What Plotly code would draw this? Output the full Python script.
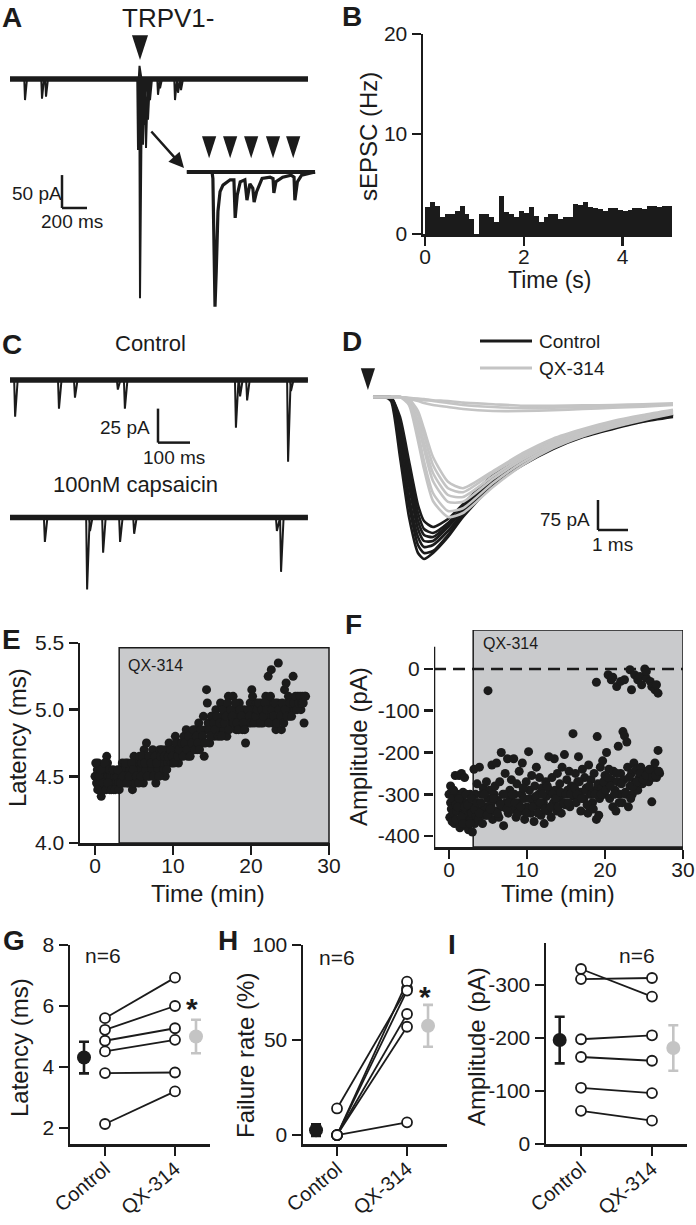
import plotly.graph_objects as go

W, H = 696, 1225
FONT = "Liberation Sans, Arial, Helvetica, sans-serif"
INK = "#1b1b1b"
GREY = "#c4c4c4"
RECT_GREY = "#c9cacc"

# ======================= DATA =======================
# ---- A: whole-cell trace (ms, pA) ----
A_window = [0, 2384]
A_evt_t = [120, 256, 288, 1024, 1036, 1040, 1048, 1056, 1064, 1072, 1088, 1104, 1120, 1184, 1200, 1320, 1344, 1368]
A_evt_i = [-32, -30, -27, -108, 20, -333, -115, -93, -100, -70, -105, -62, -32, -24, -14, -32, -21, -17]
A_stim_t = [1040]
A_stim_mark = 29
# inset (expanded time base, ms / pA)
A_in_t = [2, 62, 64, 69, 72, 76, 81, 88, 105, 114, 117, 122, 129, 140, 145, 150, 152, 159, 162, 168,
          181, 200, 207, 209, 214, 230, 250, 257, 259, 265, 275, 307]
A_in_i = [0, 0, -10, -205, -150, -60, -30, -20, -12, -12, -70, -35, -15, -12, -43, -20, -18, -25, -46, -30,
          -10, -8, -10, -32, -15, -8, -5, -8, -43, -15, -5, 0]
A_in_stim_t = [55, 105, 155, 207, 255]
A_in_stim_mark = 21
A_scale = [416, -196, 200, 50]   # corner t, corner i, 200 ms, 50 pA

# ---- B: sEPSC histogram ----
B_bin_width = 0.1
B_rate = [2.7, 3.2, 2.8, 1.7, 2.0, 2.0, 2.3, 2.8, 2.0, 1.5,
          0.0, 2.0, 2.0, 1.7, 1.2, 3.8, 2.2, 2.0, 1.7, 2.3,
          2.1, 2.7, 1.8, 1.2, 1.7, 2.0, 2.0, 1.5, 1.7, 1.7,
          3.0, 2.9, 3.2, 2.7, 2.6, 2.5, 2.3, 2.6, 2.6, 2.4,
          2.3, 2.4, 2.6, 2.6, 2.5, 2.8, 2.8, 2.7, 2.8, 2.8]

# ---- C: sEPSC traces (ms, pA) ----
C_window = [0, 931]
C_ctrl_evt_t = [16, 153, 203, 337, 359, 706, 719, 741, 869, 878]
C_ctrl_evt_i = [-27, -21, -13, -7, -21, -35, -12, -15, -60, -8]
C_caps_evt_t = [109, 241, 250, 291, 344, 388, 834, 847]
C_caps_evt_i = [-18, -53, -10, -26, -18, -12, -10, -40]
C_caps_offset = -101
C_scale = [462.5, -46, 100, 25]

# ---- D: evoked EPSCs (ms, pA) ----
D_t = [0, 0.4, 0.6, 0.9, 1.2, 1.5, 1.7, 2.0, 2.5, 3.0, 4.0, 5.0, 6.0, 7.0, 8.0, 9.0, 10.0]
D_control = [
    [0, 0, -10, -150, -300, -390, -405, -390, -350, -300, -220, -170, -130, -100, -80, -62, -50],
    [0, 0, -5, -120, -270, -370, -390, -385, -345, -295, -215, -165, -125, -98, -78, -60, -48],
    [0, 0, -5, -100, -250, -350, -375, -370, -335, -290, -210, -160, -122, -95, -76, -58, -46],
    [0, 0, 0, -80, -220, -330, -360, -360, -325, -285, -205, -158, -120, -93, -74, -57, -45],
    [0, 0, 0, -70, -200, -310, -345, -350, -320, -280, -200, -155, -118, -92, -72, -56, -44],
    [0, 0, 0, -60, -180, -290, -330, -340, -315, -275, -198, -150, -115, -90, -70, -55, -44],
    [0, 0, 0, -50, -160, -270, -310, -325, -305, -268, -195, -148, -112, -88, -70, -54, -42],
]
D_qx = [
    [0, 0, 0, 0, -20, -110, -180, -260, -300, -290, -225, -170, -128, -98, -76, -58, -42],
    [0, 0, 0, 0, -15, -90, -160, -240, -285, -278, -215, -163, -123, -94, -72, -55, -40],
    [0, 0, 0, 0, -10, -70, -130, -210, -262, -262, -205, -156, -118, -90, -70, -52, -38],
    [0, 0, 0, 0, -10, -60, -115, -190, -245, -250, -198, -150, -113, -86, -66, -50, -36],
    [0, 0, 0, 0, -5, -45, -95, -170, -228, -238, -190, -145, -108, -83, -63, -47, -34],
    [0, 0, 0, 0, -5, -35, -80, -150, -212, -228, -185, -140, -104, -80, -60, -45, -32],
]
D_qx_fail = [
    [0, 0, 0, 0, -5, -10, -15, -20, -25, -30, -35, -35, -33, -30, -27, -24, -20],
    [0, 0, 0, 0, -3, -6, -8, -10, -15, -20, -25, -28, -27, -25, -22, -20, -18],
    [0, 0, 0, 0, -2, -4, -5, -8, -10, -14, -18, -22, -22, -21, -20, -18, -16],
]
D_stim = [-0.17, 17.5]
D_scale = [7.5, -332.5, 1, 75]

# ---- E: latency over time ----
E_time = [0.0, 0.2, 0.3, 0.4, 0.5, 0.6, 0.7, 0.8, 0.9, 1.0, 1.1, 1.2, 1.3, 1.4, 1.5, 1.6, 1.7, 1.8, 1.9, 2.0,
          2.2, 2.4, 2.5, 2.7, 2.8, 3.0, 3.2, 3.4, 3.5, 3.7, 3.8, 4.0, 4.2, 4.3, 4.5, 4.6, 4.8, 5.0, 5.1, 5.2,
          5.4, 5.5, 5.7, 5.8, 6.0, 6.2, 6.3, 6.5, 6.6, 6.8, 7.0, 7.1, 7.3, 7.4, 7.6, 7.8, 8.0, 8.1, 8.3, 8.5,
          8.7, 8.8, 9.0, 9.1, 9.3, 9.5, 9.6, 9.8, 10.0, 10.2, 10.3, 10.5, 10.7, 10.9, 11.0, 11.2, 11.4, 11.6, 11.7, 11.9,
          12.1, 12.3, 12.5, 12.7, 12.9, 13.1, 13.3, 13.5, 13.7, 13.9, 14.0, 14.2, 14.3, 14.4, 14.5, 14.7, 14.9, 15.1, 15.3, 15.5,
          15.7, 15.9, 16.1, 16.3, 16.5, 16.7, 16.9, 17.1, 17.3, 17.5, 17.7, 17.9, 18.1, 18.3, 18.5, 18.7, 18.9, 19.1, 19.3, 19.5,
          19.7, 19.9, 20.1, 20.3, 20.5, 20.7, 20.9, 21.1, 21.3, 21.5, 21.7, 21.9, 22.1, 22.2, 22.4, 22.6, 22.8, 23.0, 23.2, 23.4,
          23.5, 23.7, 23.9, 24.1, 24.3, 24.5, 24.7, 24.9, 25.1, 25.4, 25.6, 25.8, 26.0, 26.2, 26.4, 26.6, 26.8, 27.0,
          0.1, 0.35, 0.55, 0.75, 1.05, 1.25, 1.45, 1.65, 1.85, 2.1, 2.3, 2.6, 2.9, 3.1, 3.3, 3.6, 3.9, 4.1, 4.4, 4.7,
          4.9, 5.3, 5.6, 5.9, 6.1, 6.4, 6.7, 6.9, 7.2, 7.5, 7.7, 7.9, 8.2, 8.4, 8.6, 8.9, 9.2, 9.4, 9.7, 9.9,
          10.1, 10.4, 10.6, 10.8, 11.1, 11.3, 11.5, 11.8, 12.0, 12.2, 12.4, 12.6, 12.8, 13.0, 13.2, 13.4, 13.6, 13.8, 14.1, 14.6,
          14.8, 15.0, 15.2, 15.4, 15.6, 15.8, 16.0, 16.2, 16.4, 16.6, 16.8, 17.0, 17.2, 17.4, 17.6, 17.8, 18.0, 18.2, 18.4, 18.6,
          18.8, 19.0, 19.2, 19.6, 19.8, 20.0, 20.2, 20.4, 20.6, 20.8, 21.0, 21.2, 21.4, 21.6, 21.8, 22.0, 22.3, 22.5, 22.7, 22.9,
          23.1, 23.3, 23.6, 23.8, 24.0, 24.2, 24.4, 24.6, 24.8, 25.0, 25.2, 25.5, 25.7, 25.9, 26.1, 26.3, 26.5, 26.7, 26.9]
E_latency = [4.50, 4.45, 4.55, 4.60, 4.40, 4.50, 4.45, 4.35, 4.55, 4.50, 4.40, 4.45, 4.50, 4.55, 4.65, 4.60, 4.50, 4.45, 4.40, 4.50,
             4.45, 4.40, 4.50, 4.45, 4.50, 4.45, 4.55, 4.50, 4.60, 4.45, 4.55, 4.50, 4.60, 4.45, 4.55, 4.50, 4.40, 4.65, 4.45, 4.55,
             4.60, 4.50, 4.65, 4.55, 4.60, 4.45, 4.70, 4.55, 4.75, 4.60, 4.50, 4.65, 4.55, 4.70, 4.60, 4.45, 4.65, 4.55, 4.70, 4.60,
             4.65, 4.55, 4.50, 4.70, 4.60, 4.75, 4.65, 4.60, 4.70, 4.65, 4.80, 4.70, 4.60, 4.75, 4.65, 4.70, 4.80, 4.70, 4.85, 4.65,
             4.75, 4.80, 4.70, 4.75, 4.85, 4.70, 4.90, 4.80, 4.75, 4.95, 4.65, 4.85, 5.15, 5.05, 4.90, 4.75, 4.95, 4.85, 4.80, 5.00,
             4.90, 4.85, 5.05, 4.95, 4.85, 5.00, 4.80, 5.10, 4.95, 4.90, 5.10, 5.00, 4.85, 4.95, 5.05, 4.90, 4.85, 5.00, 4.75, 4.95,
             4.90, 5.05, 5.15, 5.00, 4.95, 5.05, 4.90, 4.95, 5.05, 4.90, 5.00, 5.10, 4.95, 5.25, 5.05, 5.30, 4.90, 5.00, 4.85, 5.05,
             5.35, 4.95, 4.85, 5.00, 5.15, 5.20, 5.05, 4.95, 5.00, 5.25, 5.00, 5.05, 5.10, 5.05, 5.00, 5.10, 4.90, 5.10,
             4.60, 4.40, 4.50, 4.55, 4.45, 4.60, 4.40, 4.45, 4.55, 4.40, 4.55, 4.40, 4.55, 4.40, 4.45, 4.50, 4.60, 4.45, 4.50, 4.60,
             4.55, 4.50, 4.45, 4.50, 4.65, 4.60, 4.50, 4.65, 4.60, 4.50, 4.65, 4.60, 4.50, 4.65, 4.70, 4.65, 4.55, 4.65, 4.70, 4.65,
             4.60, 4.75, 4.65, 4.70, 4.75, 4.65, 4.75, 4.70, 4.80, 4.65, 4.75, 4.85, 4.70, 4.80, 4.75, 4.70, 4.85, 4.80, 4.75, 4.85,
             4.80, 4.95, 4.90, 4.85, 4.95, 4.80, 4.90, 4.80, 5.00, 4.90, 4.95, 5.05, 4.85, 5.00, 4.95, 4.90, 5.05, 4.90, 4.85, 5.00,
             4.95, 4.90, 4.85, 5.00, 4.95, 4.90, 5.10, 4.90, 4.95, 5.00, 5.05, 4.90, 5.00, 4.95, 5.05, 5.00, 4.90, 5.10, 5.00, 4.95,
             5.05, 4.90, 5.00, 4.95, 5.05, 4.90, 5.00, 4.95, 5.10, 5.05, 4.95, 5.05, 5.10, 5.00, 5.05, 5.10, 5.05, 5.05, 5.10]
E_qx_window = [3.1, 30.0, 4.0, 5.465]

# ---- F: amplitude over time ----
F_time = [0.0, 0.1, 0.2, 0.3, 0.5, 0.6, 0.7, 0.8, 0.9, 1.0, 1.1, 1.2, 1.3, 1.4, 1.5, 1.6, 1.7, 1.8, 1.9, 2.0,
          2.1, 2.2, 2.3, 2.4, 2.5, 2.6, 2.7, 2.8, 2.9, 3.0, 3.1, 3.2, 3.3, 3.4, 3.5, 3.6, 3.7, 3.8, 3.9, 4.0,
          4.2, 4.3, 4.4, 4.6, 4.7, 4.8, 5.0, 5.1, 5.2, 5.4, 5.5, 5.6, 5.8, 5.9, 6.0, 6.1, 6.3, 6.4, 6.5, 6.7,
          6.8, 6.9, 7.0, 7.2, 7.3, 7.5, 7.6, 7.8, 7.9, 8.0, 8.2, 8.3, 8.4, 8.6, 8.7, 8.9, 9.0, 9.1, 9.3, 9.4,
          9.6, 9.7, 9.9, 10.0, 10.2, 10.3, 10.5, 10.6, 10.8, 10.9, 11.0, 11.2, 11.3, 11.5, 11.6, 11.8, 11.9, 12.1, 12.2, 12.4,
          12.5, 12.7, 12.8, 12.9, 13.1, 13.2, 13.4, 13.5, 13.6, 13.8, 13.9, 14.1, 14.2, 14.4, 14.5, 14.6, 14.8, 14.9, 15.1, 15.2,
          15.4, 15.5, 15.7, 15.9, 16.0, 16.2, 16.3, 16.5, 16.6, 16.8, 16.9, 17.1, 17.3, 17.4, 17.6, 17.8, 17.9, 18.1, 18.2, 18.4,
          18.6, 18.8, 18.9, 19.0, 19.1, 19.3, 19.4, 19.6, 19.7, 19.9, 20.0, 20.2, 20.3, 20.5, 20.6, 20.8, 21.0, 21.1, 21.3, 21.4,
          21.6, 21.7, 21.9, 22.0, 22.2, 22.3, 22.4, 22.5, 22.6, 22.8, 22.9, 23.0, 23.2, 23.4, 23.5, 23.7, 23.9, 24.0, 24.2, 24.4,
          24.6, 24.8, 25.0, 25.2, 25.4, 25.6, 25.8, 26.0, 26.2, 26.4, 26.6, 26.8, 27.0,
          0.2, 0.4, 0.6, 0.9, 1.1, 1.3, 1.6, 1.8, 2.0, 2.2, 2.4, 2.7, 2.9, 3.3, 3.6, 3.9, 4.1, 4.5, 4.9, 5.3,
          5.7, 6.2, 6.6, 7.1, 7.4, 7.7, 8.1, 8.5, 8.8, 9.2, 9.5, 9.9, 10.4, 10.7, 11.1, 11.4, 11.7, 12.0, 12.3, 12.6,
          13.0, 13.3, 13.7, 14.0, 14.3, 14.7, 15.0, 15.3, 15.6, 16.1, 16.4, 16.7, 17.0, 17.5, 17.7, 18.0, 18.3, 18.5, 18.7, 19.2,
          19.5, 19.8, 20.1, 20.4, 20.7, 21.2, 21.5, 21.8, 22.1, 22.7, 23.1, 23.3, 23.6, 24.1, 24.5, 24.9, 25.3, 25.7, 26.1, 26.5, 26.9]
F_amp = [-300, -355, -320, -335, -310, -345, -370, -255, -325, -340, -300, -365, -255, -380, -330, -250, -315, -295, -350, -260,
         -340, -375, -320, -355, -385, -335, -300, -360, -345, -390, -330, -240, -370, -300, -350, -275, -320, -360, -235, -340,
         -300, -370, -285, -330, -350, -270, -310, -345, -290, -325, -230, -360, -300, -280, -340, -225, -315, -355, -270, -200,
         -330, -300, -375, -250, -320, -215, -345, -290, -310, -265, -335, -215, -300, -355, -275, -320, -245, -340, -300, -225,
         -310, -360, -270, -330, -198, -290, -345, -255, -315, -365, -280, -235, -330, -300, -260, -350, -285, -320, -370, -270,
         -305, -340, -210, -290, -355, -260, -320, -215, -290, -340, -250, -310, -275, -345, -235, -300, -205, -325, -265, -290,
         -245, -330, -280, -155, -305, -250, -320, -270, -210, -295, -340, -240, -310, -260, -285, -345, -230, -300, -265, -320,
         -250, -290, -360, -162, -275, -310, -235, -285, -220, -300, -255, -200, -280, -240, -310, -265, -330, -245, -290, -340,
         -270, -185, -300, -250, -320, -150, -265, -160, -295, -175, -235, -330, -280, -250, -300, -225, -270, -240, -290, -260,
         -235, -275, -250, -265, -245, -270, -255, -318, -240, -225, -260, -195, -250,
         -280, -365, -290, -360, -330, -310, -355, -370, -330, -300, -325, -370, -310, -335, -320, -345, -320, -300, -350, -335,
         -310, -345, -325, -300, -335, -320, -300, -320, -345, -330, -285, -345, -310, -330, -305, -345, -320, -300, -335, -280,
         -330, -300, -310, -330, -295, -320, -300, -320, -300, -285, -300, -270, -310, -290, -325, -280, -300, -335, -300, -350,
         -300, -270, -290, -260, -280, -300, -250, -320, -275, -300, -260, -310, -280, -270, -250, -265, -255, -240, -260, -255, -245]
F_fail_time = [5.0, 18.9, 20.4, 20.8, 21.0, 21.5, 22.0, 22.5, 23.2, 23.4, 23.8, 24.2, 24.5, 24.7, 25.1, 25.3, 25.3, 25.8, 26.0, 26.4, 26.6, 26.8]
F_fail_amp = [-52, -32, -14, -26, -20, -42, -30, -26, -2, -50, -14, -26, -18, -38, 0, -22, -6, -30, -42, -50, -38, -58]
F_qx_window = [3.1, 30.0, -426, 93]

# ---- G, H, I: paired summaries ----
GHI_cats = ["Control", "QX-314"]
G_control = [5.60, 5.22, 4.86, 4.51, 3.80, 2.13]
G_qx = [6.93, 6.00, 5.27, 4.89, 3.82, 3.20]
G_mean = [4.31, 5.00]
G_err = [0.52, 0.55]
H_control = [14.0, 0.0, 0.0, 0.0, 0.0, 0.0]
H_qx = [77.2, 80.7, 76.0, 63.7, 57.0, 6.7]
H_mean = [2.6, 57.5]
H_err = [3.0, 11.0]
I_control = [-330, -311, -197.5, -164, -106, -62.5]
I_qx = [-278, -313, -205, -157, -96, -44]
I_mean = [-196, -181]
I_err = [44, 43]
MEAN_POS = [0.7, 2.3]

# ======================= HELPERS =======================
def fx(p):
    return p / W


def fy(p):
    return 1 - p / H


def dom_x(a, b):
    return [fx(a), fx(b)]


def dom_y(top, bottom):
    return [fy(bottom), fy(top)]


def spikes(window, et, ei, pre, post, off=0.0):
    xs, ys = [window[0]], [off]
    for t, i in sorted(zip(et, ei)):
        xs += [t - pre, t, t + post]
        ys += [off, off + i, off]
    xs.append(window[1])
    ys.append(off)
    return xs, ys


fig = go.Figure()
shapes = []
anns = []


def line(x, y, xa, ya, color=INK, width=2, **kw):
    fig.add_trace(go.Scatter(x=x, y=y, xaxis=xa, yaxis=ya, mode="lines",
                             line=dict(color=color, width=width, **kw),
                             hoverinfo="skip", showlegend=False, cliponaxis=False))


def text(t, x, y, size, angle=0, anchor="center", bold=False, color=INK):
    anns.append(dict(text=("<b>%s</b>" % t) if bold else t, x=fx(x), y=fy(y), xref="paper", yref="paper",
                     showarrow=False, textangle=angle, xanchor=anchor, yanchor="middle",
                     font=dict(size=size, family=FONT, color=color)))


def scalebar(sb, xr, yr):
    t0, i0, dt, di = sb
    shapes.append(dict(type="line", xref=xr, yref=yr, x0=t0, x1=t0, y0=i0, y1=i0 + di,
                       line=dict(color=INK, width=2.5)))
    shapes.append(dict(type="line", xref=xr, yref=yr, x0=t0, x1=t0 + dt, y0=i0, y1=i0,
                       line=dict(color=INK, width=2.5)))


def stim(x, y, xa, ya, size):
    fig.add_trace(go.Scatter(x=x, y=y, xaxis=xa, yaxis=ya, mode="markers",
                             marker=dict(symbol="arrow", angle=180, size=size, color=INK, line=dict(width=0)),
                             hoverinfo="skip", showlegend=False, cliponaxis=False))

# ======================= PANEL A =======================
line(A_window, [0, 0], "x", "y", width=5.5)
xs, ys = spikes(A_window, A_evt_t, A_evt_i, 6, 16)
line(xs, ys, "x", "y", width=2)
stim(A_stim_t, [A_stim_mark], "x", "y", 26)
line(A_in_t, A_in_i, "x2", "y2", width=3.2)
line([A_in_t[0], A_in_t[-1]], [0, 0], "x2", "y2", width=4)
stim(A_in_stim_t, [A_in_stim_mark] * len(A_in_stim_t), "x2", "y2", 23)
scalebar(A_scale, "x", "y")
anns.append(dict(x=fx(184), y=fy(168), xref="paper", yref="paper", ax=-34, ay=-38, axref="pixel", ayref="pixel",
                 showarrow=True, arrowhead=2, arrowsize=1.2, arrowwidth=2.5, arrowcolor=INK, text=""))

# ======================= PANEL B =======================
fig.add_trace(go.Bar(x=[B_bin_width * (k + 0.5) for k in range(len(B_rate))], y=B_rate, width=B_bin_width,
                     marker=dict(color=INK, line=dict(width=0)), xaxis="x3", yaxis="y3",
                     hoverinfo="skip", showlegend=False))

# ======================= PANEL C =======================
line(C_window, [0, 0], "x4", "y4", width=5.5)
xs, ys = spikes(C_window, C_ctrl_evt_t, C_ctrl_evt_i, 3, 8)
line(xs, ys, "x4", "y4", width=2)
line(C_window, [C_caps_offset, C_caps_offset], "x4", "y4", width=5.5)
xs, ys = spikes(C_window, C_caps_evt_t, C_caps_evt_i, 3, 8, C_caps_offset)
line(xs, ys, "x4", "y4", width=2)
scalebar(C_scale, "x4", "y4")

# ======================= PANEL D =======================
for tr in D_control:
    line(D_t, tr, "x5", "y5", color=INK, width=2.6, shape="spline", smoothing=0.6)
for tr in D_qx + D_qx_fail:
    line(D_t, tr, "x5", "y5", color=GREY, width=2.6, shape="spline", smoothing=0.6)
stim([D_stim[0]], [D_stim[1]], "x5", "y5", 23)
scalebar(D_scale, "x5", "y5")
shapes.append(dict(type="line", xref="paper", yref="paper", x0=fx(480), x1=fx(532), y0=fy(341), y1=fy(341),
                   line=dict(color=INK, width=3)))
shapes.append(dict(type="line", xref="paper", yref="paper", x0=fx(480), x1=fx(532), y0=fy(368), y1=fy(368),
                   line=dict(color=GREY, width=3)))

# ======================= PANEL E =======================
shapes.append(dict(type="rect", xref="x6", yref="y6", x0=E_qx_window[0], x1=E_qx_window[1],
                   y0=E_qx_window[2], y1=E_qx_window[3], fillcolor=RECT_GREY,
                   line=dict(color=INK, width=1.5), layer="below"))
fig.add_trace(go.Scatter(x=E_time, y=E_latency, xaxis="x6", yaxis="y6", mode="markers",
                         marker=dict(size=9, color=INK), hoverinfo="skip", showlegend=False))

# ======================= PANEL F =======================
shapes.append(dict(type="rect", xref="x7", yref="y7", x0=F_qx_window[0], x1=F_qx_window[1],
                   y0=F_qx_window[2], y1=F_qx_window[3], fillcolor=RECT_GREY,
                   line=dict(color=INK, width=1.5), layer="below"))
shapes.append(dict(type="line", xref="x7", yref="y7", x0=-1.92, x1=30, y0=0, y1=0,
                   line=dict(color=INK, width=2.5, dash="12px,7px"), layer="below"))
shapes.append(dict(type="line", xref="x7", yref="y7", x0=-1.92, x1=-1.92, y0=-426, y1=53,
                   line=dict(color=INK, width=2.5)))
fig.add_trace(go.Scatter(x=F_time + F_fail_time, y=F_amp + F_fail_amp, xaxis="x7", yaxis="y7", mode="markers",
                         marker=dict(size=9, color=INK), hoverinfo="skip", showlegend=False))

# ======================= PANELS G, H, I =======================
def paired(ctrl, qx, mean, err, xa, ya):
    for c, q in zip(ctrl, qx):
        fig.add_trace(go.Scatter(x=[1, 2], y=[c, q], xaxis=xa, yaxis=ya, mode="lines+markers",
                                 line=dict(color=INK, width=1.8),
                                 marker=dict(size=10, color="white", line=dict(color=INK, width=1.8)),
                                 hoverinfo="skip", showlegend=False, cliponaxis=False))
    for k, col in enumerate([INK, GREY]):
        fig.add_trace(go.Scatter(x=[MEAN_POS[k]], y=[mean[k]], xaxis=xa, yaxis=ya, mode="markers",
                                 marker=dict(size=14, color=col),
                                 error_y=dict(type="data", array=[err[k]], color=col, thickness=2.6, width=5),
                                 hoverinfo="skip", showlegend=False, cliponaxis=False))


paired(G_control, G_qx, G_mean, G_err, "x8", "y8")
paired(H_control, H_qx, H_mean, H_err, "x9", "y9")
paired(I_control, I_qx, I_mean, I_err, "x10", "y10")

# ======================= AXES =======================
TICKFONT = dict(size=21, family=FONT, color=INK)
CATFONT = dict(size=20, family=FONT, color=INK)


def hidden(dom, rng):
    return dict(domain=dom, range=rng, visible=False, fixedrange=True)


def vis(dom, rng, anchor, tickvals, ticktext=None, **kw):
    d = dict(domain=dom, range=rng, anchor=anchor, showgrid=False, zeroline=False, showline=True,
             linewidth=2.5, linecolor=INK, ticks="outside", ticklen=9, tickwidth=2.5, tickcolor=INK,
             tickfont=TICKFONT, tickvals=tickvals, ticktext=ticktext or [str(v) for v in tickvals],
             fixedrange=True, automargin=False)
    d.update(kw)
    return d


XSTAND = -7
lay = dict(
    xaxis=hidden(dom_x(0, 340), [-80, 2640]), yaxis=hidden(dom_y(0, 310), [-351, 120]),
    xaxis2=hidden(dom_x(186, 318), [0, 314]), yaxis2=hidden(dom_y(120, 310), [-210, 79]),
    xaxis3=vis(dom_x(423, 672), [-0.04, 5.0], "y3", [0, 2, 4], ticklabelstandoff=XSTAND),
    yaxis3=vis(dom_y(34, 234), [0, 20], "x3", [0, 10, 20]),
    xaxis4=hidden(dom_x(0, 340), [-31.25, 1031.25]), yaxis4=hidden(dom_y(310, 600), [-161.7, 51.5]),
    xaxis5=hidden(dom_x(340, 696), [-1.1, 10.767]), yaxis5=hidden(dom_y(310, 580), [-457.5, 217.5]),
    xaxis6=vis(dom_x(80, 330), [-1.923, 30.128], "y6", [0, 10, 20, 30], ticklabelstandoff=XSTAND),
    yaxis6=vis(dom_y(643, 843), [4.0, 5.5], "x6", [4.0, 4.5, 5.0, 5.5], ["4.0", "4.5", "5.0", "5.5"]),
    xaxis7=vis(dom_x(434, 683), [-1.923, 30.0], "y7", [0, 10, 20, 30], ticklabelstandoff=XSTAND),
    yaxis7=vis(dom_y(630, 847), [-426, 93], "x7", [0, -100, -200, -300, -400],
               ["0", "-100", "-200", "-300", "-400"], showline=False),
    xaxis8=vis(dom_x(70, 210), [0.5, 2.5], "y8", [1, 2], GHI_cats, tickangle=-40, tickfont=CATFONT,
               ticklabelstandoff=-6),
    yaxis8=vis(dom_y(945, 1144), [1.475, 8], "x8", [2, 4, 6, 8]),
    xaxis9=vis(dom_x(303, 447), [0.514, 2.571], "y9", [1, 2], GHI_cats, tickangle=-40, tickfont=CATFONT,
               ticklabelstandoff=-6),
    yaxis9=vis(dom_y(945, 1144), [-4.7, 100], "x9", [0, 50, 100]),
    xaxis10=vis(dom_x(546, 687), [0.507, 2.493], "y10", [1, 2], GHI_cats, tickangle=-40, tickfont=CATFONT,
                ticklabelstandoff=-6),
    yaxis10=vis(dom_y(943, 1144), [0, -379], "x10", [0, -100, -200, -300], ["0", "-100", "-200", "-300"]),
)

# ======================= TEXT =======================
for lab, x, y in [("A", 12, 18), ("B", 352, 17), ("C", 12, 344), ("D", 352, 341), ("E", 11, 639),
                  ("F", 353, 624), ("G", 14, 940), ("H", 228, 940), ("I", 452, 944)]:
    text(lab, x, y, 28, bold=True)

text("TRPV1-", 168, 18, 26)
text("50 pA", 37, 193, 19)
text("200 ms", 72, 222, 19)
text("sEPSC (Hz)", 368, 137, 24, angle=-90)
text("Time (s)", 549, 280, 23)
text("Control", 150, 343, 22)
text("100nM capsaicin", 135, 485, 22)
text("25 pA", 125, 428, 19)
text("100 ms", 174, 457, 19)
text("Control", 537, 341, 19, anchor="left")
text("QX-314", 537, 368, 19, anchor="left")
text("75 pA", 565, 519, 19)
text("1 ms", 612, 544, 19)
text("QX-314", 155, 665, 16)
text("QX-314", 510, 643, 16)
text("Latency (ms)", 17, 738, 24, angle=-90)
text("Amplitude (pA)", 358, 747, 24, angle=-90)
text("Time (min)", 208, 893, 24)
text("Time (min)", 558, 893, 24)
text("Latency (ms)", 19, 1048, 24, angle=-90)
text("Failure rate (%)", 245, 1055, 24, angle=-90)
text("Amplitude (pA)", 476, 1047, 24, angle=-90)
text("n=6", 103, 955, 21)
text("n=6", 337, 957, 21)
text("n=6", 637, 955, 21)
text("*", 192, 1008, 30, bold=True)
text("*", 425, 996, 30, bold=True)

fig.update_layout(width=W, height=H, margin=dict(l=0, r=0, t=0, b=0, pad=0, autoexpand=False),
                  paper_bgcolor="white", plot_bgcolor="rgba(0,0,0,0)",
                  font=dict(family=FONT, color=INK), bargap=0, showlegend=False,
                  shapes=shapes, annotations=anns, hovermode=False, **lay)

fig.write_html("out.html", config={"displayModeBar": False, "staticPlot": True},
               post_script="document.body.style.margin='0px';document.body.style.padding='0px';")
